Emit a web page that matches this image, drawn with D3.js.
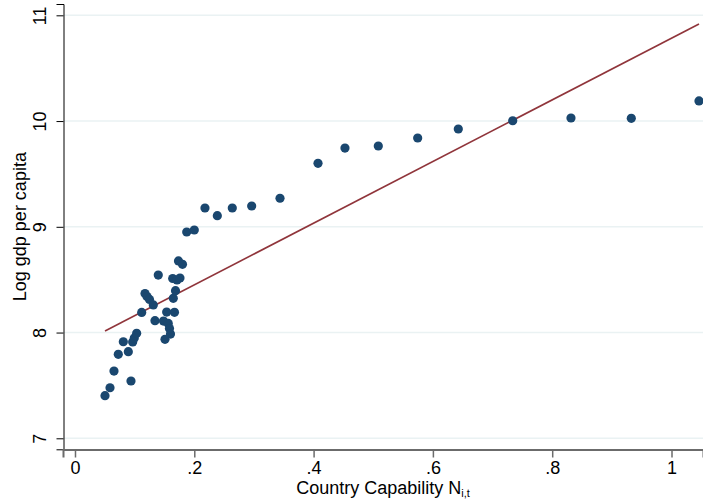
<!DOCTYPE html>
<html>
<head>
<meta charset="utf-8">
<script src="https://cdn.jsdelivr.net/npm/d3@7"></script>
<style>
  html, body { margin: 0; padding: 0; background: #fff; }
  svg { display: block; font-family: "Liberation Sans", Arial, sans-serif; }
</style>
</head>
<body>
<svg id="chart" width="703" height="504"></svg>
<script>
// ---- data ----
const capability = [0.0503, 0.0587, 0.0654, 0.0726, 0.0939, 0.0894, 0.0810, 0.0967, 0.0994, 0.1034,
  0.1118, 0.1174, 0.1207, 0.1249, 0.1313, 0.1341, 0.1396, 0.1484, 0.1564, 0.1584,
  0.1601, 0.1509, 0.1537, 0.1668, 0.1648, 0.1685, 0.1638, 0.1710, 0.1760, 0.1735,
  0.1802, 0.1873, 0.2000, 0.2179, 0.2386, 0.2637, 0.2962, 0.3437, 0.4074, 0.4526,
  0.5085, 0.5745, 0.6426, 0.7338, 0.8315, 0.9326, 1.0461];
const logGdp = [7.403, 7.478, 7.636, 7.794, 7.542, 7.819, 7.913, 7.911, 7.948, 7.993,
  8.190, 8.369, 8.341, 8.313, 8.261, 8.112, 8.544, 8.109, 8.086, 8.038,
  7.986, 7.936, 8.194, 8.191, 8.324, 8.396, 8.511, 8.497, 8.516, 8.677,
  8.645, 8.951, 8.970, 9.178, 9.105, 9.178, 9.197, 9.270, 9.600, 9.745,
  9.764, 9.840, 9.925, 10.003, 10.029, 10.026, 10.190];
const fitIntercept = 7.868;
const fitSlope = 2.915;
const xTicks = [0, 0.2, 0.4, 0.6, 0.8, 1];
const xTickLabels = ["0", ".2", ".4", ".6", ".8", "1"];
const yTicks = [7, 8, 9, 10, 11];
const yTickLabels = ["7", "8", "9", "10", "11"];

// ---- chart ----
const svg = d3.select("#chart");
const x = d3.scaleLinear().domain([-0.0201, 1.0528]).range([63, 703]);
const y = d3.scaleLinear().domain([6.896, 11.107]).range([449.3, 4]);

// gridlines
svg.append("g").selectAll("line").data(yTicks).join("line")
  .attr("x1", 64).attr("x2", 703)
  .attr("y1", d => y(d)).attr("y2", d => y(d))
  .attr("stroke", "#eaf2f3").attr("stroke-width", 1.5);

// fitted line
const xExt = d3.extent(capability);
const fitPts = xExt.map(v => [v, fitIntercept + fitSlope * v]);
svg.append("path")
  .attr("d", d3.line().x(d => x(d[0])).y(d => y(d[1]))(fitPts))
  .attr("fill", "none").attr("stroke", "#90353b").attr("stroke-width", 1.6);

// points
svg.append("g").selectAll("circle").data(capability).join("circle")
  .attr("cx", d => x(d)).attr("cy", (d, i) => y(logGdp[i]))
  .attr("r", 4.6).attr("fill", "#1a476f");

// y axis
const yAx = svg.append("g").attr("transform", "translate(63.5,0)")
  .call(d3.axisLeft(y).tickValues(yTicks).tickSize(7).tickPadding(0).tickFormat((d, i) => yTickLabels[i]));
yAx.select(".domain").attr("stroke", "#000").attr("stroke-width", 1);
yAx.selectAll(".tick line").attr("stroke", "#000").attr("stroke-width", 1);
yAx.selectAll(".tick text")
  .attr("x", null).attr("dy", null)
  .attr("transform", "translate(-17.5,0) rotate(-90)")
  .attr("text-anchor", "middle")
  .attr("font-size", 18).attr("fill", "#000")
  .attr("font-family", "Liberation Sans, Arial, sans-serif");

// x axis
const xAx = svg.append("g").attr("transform", "translate(0,449.5)")
  .call(d3.axisBottom(x).tickValues(xTicks).tickSize(8).tickPadding(5).tickFormat((d, i) => xTickLabels[i]));
xAx.select(".domain").attr("stroke", "#6b6b6b").attr("stroke-width", 2);
xAx.selectAll(".tick line").attr("stroke", "#6b6b6b").attr("stroke-width", 1.5);
xAx.selectAll(".tick text")
  .attr("dy", null).attr("y", 24.5)
  .attr("font-size", 18).attr("fill", "#000")
  .attr("font-family", "Liberation Sans, Arial, sans-serif");

// axis titles
svg.append("text")
  .attr("transform", `translate(26,${(y.range()[0] + y.range()[1]) / 2}) rotate(-90)`)
  .attr("text-anchor", "middle").attr("font-size", 18).attr("fill", "#000")
  .text("Log gdp per capita");

const xt = svg.append("text")
  .attr("x", (x.range()[0] + x.range()[1]) / 2).attr("y", 494)
  .attr("text-anchor", "middle").attr("font-size", 18).attr("fill", "#000");
xt.append("tspan").text("Country Capability N");
xt.append("tspan").attr("font-size", 11).attr("dy", 3).text("i,t");
</script>
</body>
</html>
